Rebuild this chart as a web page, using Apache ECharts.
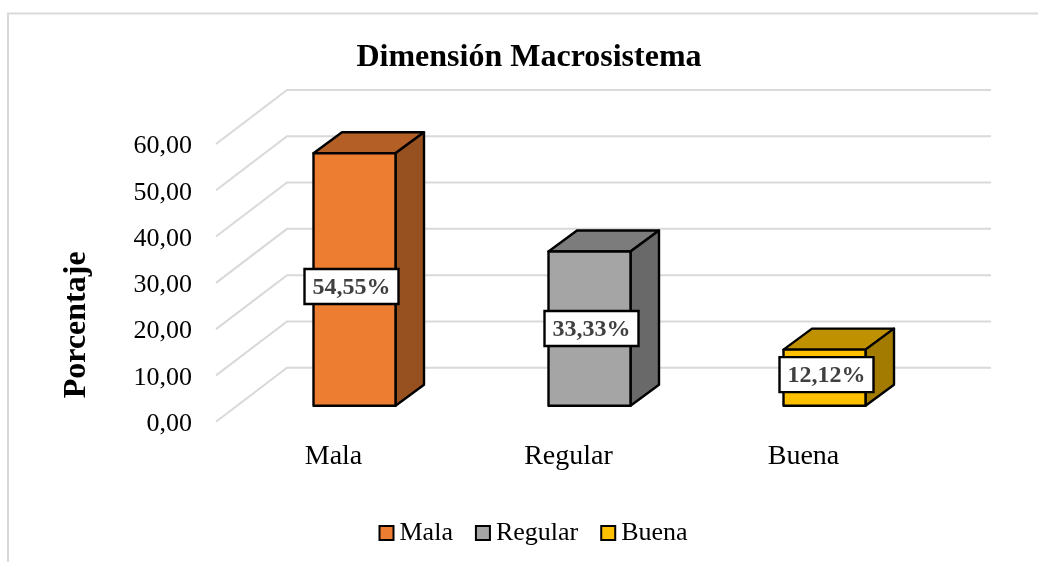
<!DOCTYPE html>
<html>
<head>
<meta charset="utf-8">
<style>
  html, body { margin: 0; padding: 0; background: #fff; }
  #chart { width: 1038px; height: 562px; }
</style>
<script src="https://cdn.jsdelivr.net/npm/echarts@6/dist/echarts.min.js"></script>
</head>
<body>
<div id="chart"></div>
<script>
const categories = ['Mala', 'Regular', 'Buena'];
const values = [54.55, 33.33, 12.12];
const valueLabels = ['54,55%', '33,33%', '12,12%'];
const yTicks = [0, 10, 20, 30, 40, 50, 60];

const frontColors = ['#ED7D31', '#A5A5A5', '#FFC000'];
const topColors = ['#B35F25', '#7C7C7C', '#BF9000'];
const sideColors = ['#97501F', '#696969', '#A37B00'];

const FONT = '"Liberation Serif", "Times New Roman", serif';

// floor depth of the fake 3D box, in pixels
const WALL_DX = 71, WALL_DY = -54;
const BAR_DX = 21, BAR_DY = -16;
const BAR_W = 82, DEPTH_X = 28.5, DEPTH_Y = -21;
const LABEL_W = 94, LABEL_H = 35;
const labelShift = [[-3, 7], [2, 0], [2, -3]];

const chart = echarts.init(document.getElementById('chart'));

function renderWall(params, api) {
  const p = api.coord([0, api.value(0)]);
  const left = params.coordSys.x;
  const right = left + params.coordSys.width;
  const y = p[1];
  return {
    type: 'polyline',
    silent: true,
    shape: { points: [[left, y], [left + WALL_DX, y + WALL_DY], [right + WALL_DX - 1, y + WALL_DY]] },
    style: { stroke: '#D9D9D9', lineWidth: 2, fill: 'none' }
  };
}

function renderBar(idx) {
  return function (params, api) {
    const top = api.coord([idx, api.value(1)]);
    const base = api.coord([idx, 0]);
    const x0 = top[0] + BAR_DX - BAR_W / 2;
    const x1 = x0 + BAR_W;
    const y0 = top[1] + BAR_DY;
    const y1 = base[1] + BAR_DY;
    const edge = { stroke: '#000', lineWidth: 2.4, lineJoin: 'round' };
    const cx = (x0 + x1) / 2 + labelShift[idx][0];
    const cy = (y0 + y1) / 2 + labelShift[idx][1];
    return {
      type: 'group',
      children: [
        { type: 'polygon', shape: { points: [[x0, y0], [x1, y0], [x1 + DEPTH_X, y0 + DEPTH_Y], [x0 + DEPTH_X, y0 + DEPTH_Y]] },
          style: Object.assign({ fill: topColors[idx] }, edge) },
        { type: 'polygon', shape: { points: [[x1, y0], [x1 + DEPTH_X, y0 + DEPTH_Y], [x1 + DEPTH_X, y1 + DEPTH_Y], [x1, y1]] },
          style: Object.assign({ fill: sideColors[idx] }, edge) },
        { type: 'rect', shape: { x: x0, y: y0, width: BAR_W, height: y1 - y0 },
          style: Object.assign({ fill: frontColors[idx] }, edge) },
        { type: 'rect', shape: { x: cx - LABEL_W / 2, y: cy - LABEL_H / 2, width: LABEL_W, height: LABEL_H },
          style: { fill: '#fff', stroke: '#000', lineWidth: 2.4 } },
        { type: 'text', x: cx, y: cy + 1,
          style: { text: valueLabels[idx], fill: '#404040', font: 'bold 24px ' + FONT, align: 'center', verticalAlign: 'middle' } }
      ]
    };
  };
}

const option = {
  animation: false,
  backgroundColor: '#fff',
  title: {
    text: 'Dimensión Macrosistema',
    left: 524, top: 37, textAlign: 'center',
    textStyle: { fontFamily: FONT, fontWeight: 'bold', fontSize: 32, color: '#000' }
  },
  legend: {
    data: categories,
    left: 373.5, top: 515,
    icon: 'rect', itemWidth: 14, itemHeight: 14, itemGap: 22,
    textStyle: { fontFamily: FONT, fontSize: 26, color: '#000', padding: [0, 0, 0, 1] }
  },
  grid: { left: 216, top: 144, width: 705, height: 277.7, containLabel: false },
  xAxis: {
    type: 'category', data: categories,
    axisLine: { show: false }, axisTick: { show: false },
    axisLabel: { fontFamily: FONT, fontSize: 28, color: '#000', margin: 21 }
  },
  yAxis: {
    type: 'value', min: 0, max: 60, interval: 10,
    name: 'Porcentaje', nameLocation: 'middle', nameGap: 123, nameRotate: 90,
    nameTextStyle: { fontFamily: FONT, fontWeight: 'bold', fontSize: 32, color: '#000', padding: [0, 84, 0, 0] },
    axisLine: { show: false }, axisTick: { show: false }, splitLine: { show: false },
    axisLabel: { fontFamily: FONT, fontSize: 26, color: '#000', margin: 24,
      formatter: v => '{t|' + v.toFixed(2).replace('.', ',') + '}',
      rich: { t: { fontFamily: FONT, fontSize: 26, color: '#000', padding: [5, 0, 0, 0] } } }
  },
  graphic: [
    { type: 'polyline', silent: true, shape: { points: [[8, 564], [8, 13.5], [1040, 13.5]] },
      style: { stroke: '#D9D9D9', lineWidth: 2, fill: 'none' } }
  ],
  series: [
    { type: 'custom', name: 'wall', silent: true, z: 1, data: yTicks.map(t => [t]),
      encode: { y: 0 }, renderItem: renderWall }
  ].concat(categories.map((c, i) => ({
    type: 'custom', name: c, z: 2 + i,
    itemStyle: { color: frontColors[i], borderColor: '#000', borderWidth: 2 },
    encode: { x: 0, y: 1 },
    data: [[i, values[i]]],
    renderItem: renderBar(i)
  })))
};

chart.setOption(option);
</script>
</body>
</html>
